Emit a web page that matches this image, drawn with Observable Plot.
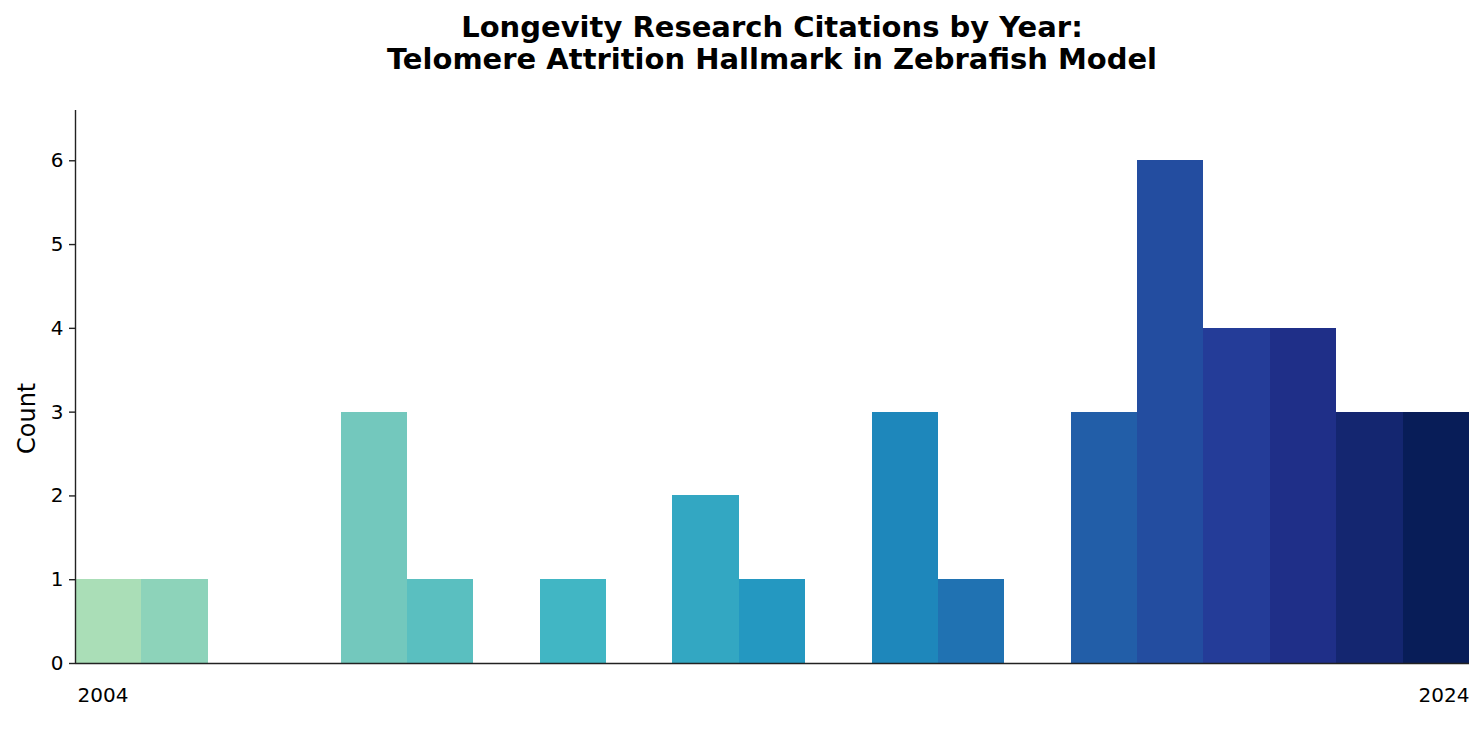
<!DOCTYPE html>
<html>
<head>
<meta charset="utf-8">
<script src="https://cdn.jsdelivr.net/npm/d3@7"></script>
<script src="https://cdn.jsdelivr.net/npm/@observablehq/plot@0.6"></script>
<style>
  html, body { margin: 0; padding: 0; background: #fff; }
  #title { width: 1484px; height: 90px; box-sizing: border-box; padding-top: 11px; padding-left: 60px;
    text-align: center; font-family: "DejaVu Sans", sans-serif; font-weight: bold; font-size: 29px; line-height: 32px; color: #000; }
  svg { display: block; }
</style>
</head>
<body>
<div id="title">Longevity Research Citations by Year:<br>Telomere Attrition Hallmark in Zebrafish Model</div>
<div id="chart"></div>
<script>
const years = [2004,2005,2006,2007,2008,2009,2010,2011,2012,2013,2014,2015,2016,2017,2018,2019,2020,2021,2022,2023,2024];
const counts = [1,1,0,0,3,1,0,1,0,2,1,0,3,1,0,3,6,4,4,3,3];
const yTicks = [0,1,2,3,4,5,6];
const xTickLabels = ["2004", "2024"];

// matplotlib-style YlGnBu (linear segments between 9 anchors)
const ylgnbu = ["#ffffd9","#edf8b1","#c7e9b4","#7fcdbb","#41b6c4","#1d91c0","#225ea8","#253494","#081d58"];
const pw = d3.piecewise(d3.interpolateRgb, ylgnbu);

let k = 0;
const data = years.map((y, i) => ({year: y, count: counts[i], idx: counts[i] > 0 ? k++ : null})).filter(d => d.count > 0);
const nBars = k;
const x0 = years[0], x1 = years[years.length - 1] + 1;

const chart = Plot.plot({
  width: 1484,
  height: 643,
  marginLeft: 75,
  marginRight: 15,
  marginTop: 20,
  marginBottom: 70,
  style: {fontFamily: "DejaVu Sans, sans-serif", fontSize: "20px", color: "#000", background: "#fff"},
  x: {type: "linear", domain: [x0, x1], axis: null},
  y: {domain: [0, 6.6], axis: null},
  color: {type: "linear", domain: [0, nBars - 1], interpolate: t => pw(0.3 + 0.7 * t)},
  marks: [
    Plot.rectY(data, {x1: "year", x2: d => d.year + 1, y: "count", fill: "idx", inset: 0, shapeRendering: "crispEdges"}),
    Plot.ruleY([0], {x1: x0, x2: x1, stroke: "#222", strokeWidth: 1.4}),
    Plot.ruleX([x0], {y1: 0, y2: 6.6, stroke: "#222", strokeWidth: 1.4}),
    Plot.ruleY(yTicks, {y: d => d, x1: x0, x2: x0, insetLeft: -6, stroke: "#222", strokeWidth: 1.4}),
    Plot.text(yTicks, {y: d => d, frameAnchor: "left", dx: -12, textAnchor: "end", text: d => String(d), fill: "#000", fontSize: 20}),
    Plot.text([{x: x0, t: xTickLabels[0]}], {x: "x", frameAnchor: "bottom", dy: 38, dx: 2, text: "t", textAnchor: "start", fontSize: 20, fill: "#000"}),
    Plot.text([{x: x1, t: xTickLabels[1]}], {x: "x", frameAnchor: "bottom", dy: 38, text: "t", textAnchor: "end", fontSize: 20, fill: "#000"}),
    Plot.text(["Count"], {frameAnchor: "left", dx: -48, dy: 67, rotate: -90, text: d => d, fontSize: 24, fill: "#000"})
  ]
});
document.getElementById("chart").appendChild(chart);
</script>
</body>
</html>
